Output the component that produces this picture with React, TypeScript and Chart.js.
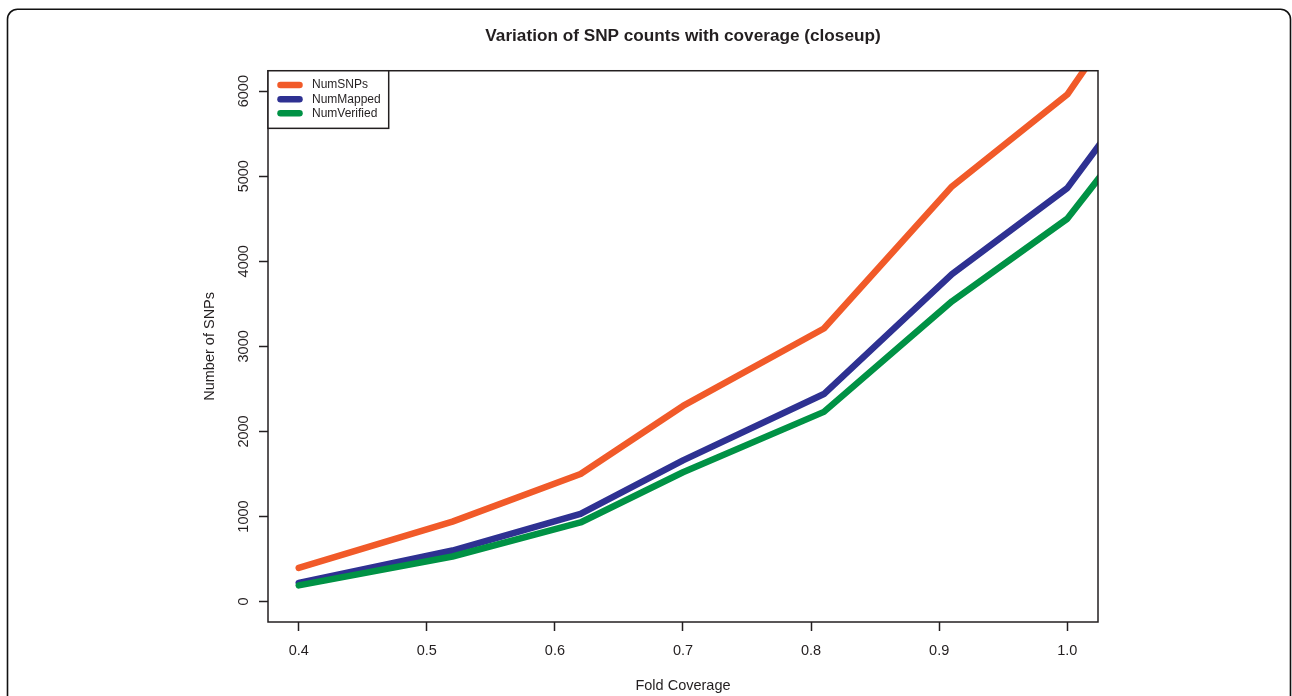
import React, { useEffect, useRef } from "react";
import { Chart, registerables } from "chart.js";

Chart.register(...registerables);

// ---- data ----
const COVERAGE = [0.4, 0.52, 0.62, 0.7, 0.81, 0.91, 1.0, 1.1];
const NUM_SNPS = [395, 940, 1500, 2300, 3210, 4880, 5960, 8140];
const NUM_MAPPED = [220, 600, 1030, 1660, 2440, 3850, 4860, 6890];
const NUM_VERIFIED = [190, 530, 930, 1520, 2230, 3530, 4500, 6430];
const SERIES_LABELS = ["NumSNPs", "NumMapped", "NumVerified"];
const X_TICKS = [0.4, 0.5, 0.6, 0.7, 0.8, 0.9, 1.0];
const Y_TICKS = [0, 1000, 2000, 3000, 4000, 5000, 6000];
const X_LIMITS = [0.4, 1.0];
const Y_LIMITS = [0, 6000];

const TITLE = "Variation of SNP counts with coverage (closeup)";
const X_TITLE = "Fold Coverage";
const Y_TITLE = "Number of SNPs";

const COLORS = ["#f15a29", "#2e3192", "#009245"];
const INK = "#231f20";
const FONT = "'Liberation Sans', Arial, Helvetica, sans-serif";

// R-style 4% axis extension
const ext = (lim: number[]) => {
  const r = lim[1] - lim[0];
  return [lim[0] - 0.04 * r, lim[1] + 0.04 * r];
};

const rStylePlugin = {
  id: "rStyle",
  beforeDraw(chart: any) {
    const ctx = chart.ctx;
    ctx.save();
    ctx.strokeStyle = "#111";
    ctx.lineWidth = 1.6;
    const l = 7.5, t = 9.2, r = 1290.5, rad = 10, b = 720;
    ctx.beginPath();
    ctx.moveTo(l, b);
    ctx.lineTo(l, t + rad);
    ctx.arcTo(l, t, l + rad, t, rad);
    ctx.lineTo(r - rad, t);
    ctx.arcTo(r, t, r, t + rad, rad);
    ctx.lineTo(r, b);
    ctx.stroke();
    ctx.restore();
  },
  afterDatasetsDraw(chart: any) {
    const ctx = chart.ctx;
    const { left, top, right, bottom } = chart.chartArea;
    ctx.save();
    // plot box
    ctx.strokeStyle = INK;
    ctx.lineWidth = 1.5;
    ctx.strokeRect(left, top, right - left, bottom - top);

    // legend (top-left, boxed)
    ctx.font = `12px ${FONT}`;
    const ds = chart.data.datasets;
    const maxW = Math.max(...ds.map((d: any) => ctx.measureText(d.label).width));
    const w = 44 + maxW + 8;
    const h = 57.6;
    ctx.fillStyle = "#ffffff";
    ctx.fillRect(left, top, w, h);
    ctx.strokeRect(left, top, w, h);
    ds.forEach((d: any, i: number) => {
      const y = top + 14.3 + i * 14.15;
      ctx.beginPath();
      ctx.strokeStyle = d.borderColor;
      ctx.lineWidth = 6.5;
      ctx.lineCap = "round";
      ctx.moveTo(left + 12.5, y);
      ctx.lineTo(left + 31.5, y);
      ctx.stroke();
      ctx.fillStyle = INK;
      ctx.textBaseline = "middle";
      ctx.textAlign = "left";
      ctx.fillText(d.label, left + 44, y);
    });
    ctx.restore();
  },
};

export default function App() {
  const ref = useRef<HTMLCanvasElement | null>(null);

  useEffect(() => {
    if (!ref.current) return;
    const [xMin, xMax] = ext(X_LIMITS);
    const [yMin, yMax] = ext(Y_LIMITS);
    const series = [NUM_SNPS, NUM_MAPPED, NUM_VERIFIED];
    const tickFont = { family: FONT, size: 14.5 };
    const grid = {
      drawOnChartArea: false,
      drawTicks: true,
      tickLength: 9,
      tickWidth: 1.5,
      tickColor: INK,
    };
    const chart = new Chart(ref.current, {
      type: "line",
      data: {
        datasets: series.map((vals, i) => ({
          label: SERIES_LABELS[i],
          data: COVERAGE.map((x, j) => ({ x, y: vals[j] })),
          borderColor: COLORS[i],
          backgroundColor: COLORS[i],
          borderWidth: 6.5,
          borderCapStyle: "round",
          borderJoinStyle: "round",
          pointRadius: 0,
          pointHoverRadius: 0,
          tension: 0,
          fill: false,
          clip: 0,
          order: 3 - i,
        })),
      },
      plugins: [rStylePlugin],
      options: {
        responsive: false,
        animation: false,
        events: [],
        layout: { padding: { left: 0, right: 194, top: 0, bottom: 0 } },
        plugins: {
          legend: { display: false },
          tooltip: { enabled: false },
          title: {
            display: true,
            text: TITLE,
            fullSize: false,
            color: INK,
            font: { family: FONT, size: 17.2, weight: "bold" },
            padding: { top: 26, bottom: 24.1 },
          },
        },
        scales: {
          x: {
            type: "linear",
            min: xMin,
            max: xMax,
            afterBuildTicks: (s: any) => {
              s.ticks = X_TICKS.map((v) => ({ value: v }));
            },
            afterFit: (s: any) => {
              s.height = 74;
            },
            ticks: {
              autoSkip: false,
              minRotation: 0,
              maxRotation: 0,
              padding: 10.8,
              color: INK,
              font: tickFont,
              callback: (v: any) => Number(v).toFixed(1),
            },
            grid,
            border: { display: false },
            title: {
              display: true,
              text: X_TITLE,
              color: INK,
              font: tickFont,
              padding: { top: 0, bottom: 1.8 },
            },
          },
          y: {
            type: "linear",
            min: yMin,
            max: yMax,
            afterBuildTicks: (s: any) => {
              s.ticks = Y_TICKS.map((v) => ({ value: v }));
            },
            afterFit: (s: any) => {
              s.width = 268;
            },
            ticks: {
              autoSkip: false,
              minRotation: 90,
              maxRotation: 90,
              crossAlign: "center",
              padding: -1,
              color: INK,
              font: tickFont,
              callback: (v: any) => String(v),
            },
            grid,
            border: { display: false },
            title: {
              display: true,
              text: Y_TITLE,
              color: INK,
              font: tickFont,
              padding: { top: 201.3, bottom: 0 },
            },
          },
        },
      },
    } as any);
    return () => chart.destroy();
  }, []);

  return (
    <div style={{ position: "fixed", left: 0, top: 0, width: 1292, height: 696, background: "#fff" }}>
      <canvas ref={ref} width={1292} height={696} style={{ display: "block", width: 1292, height: 696 }} />
    </div>
  );
}
